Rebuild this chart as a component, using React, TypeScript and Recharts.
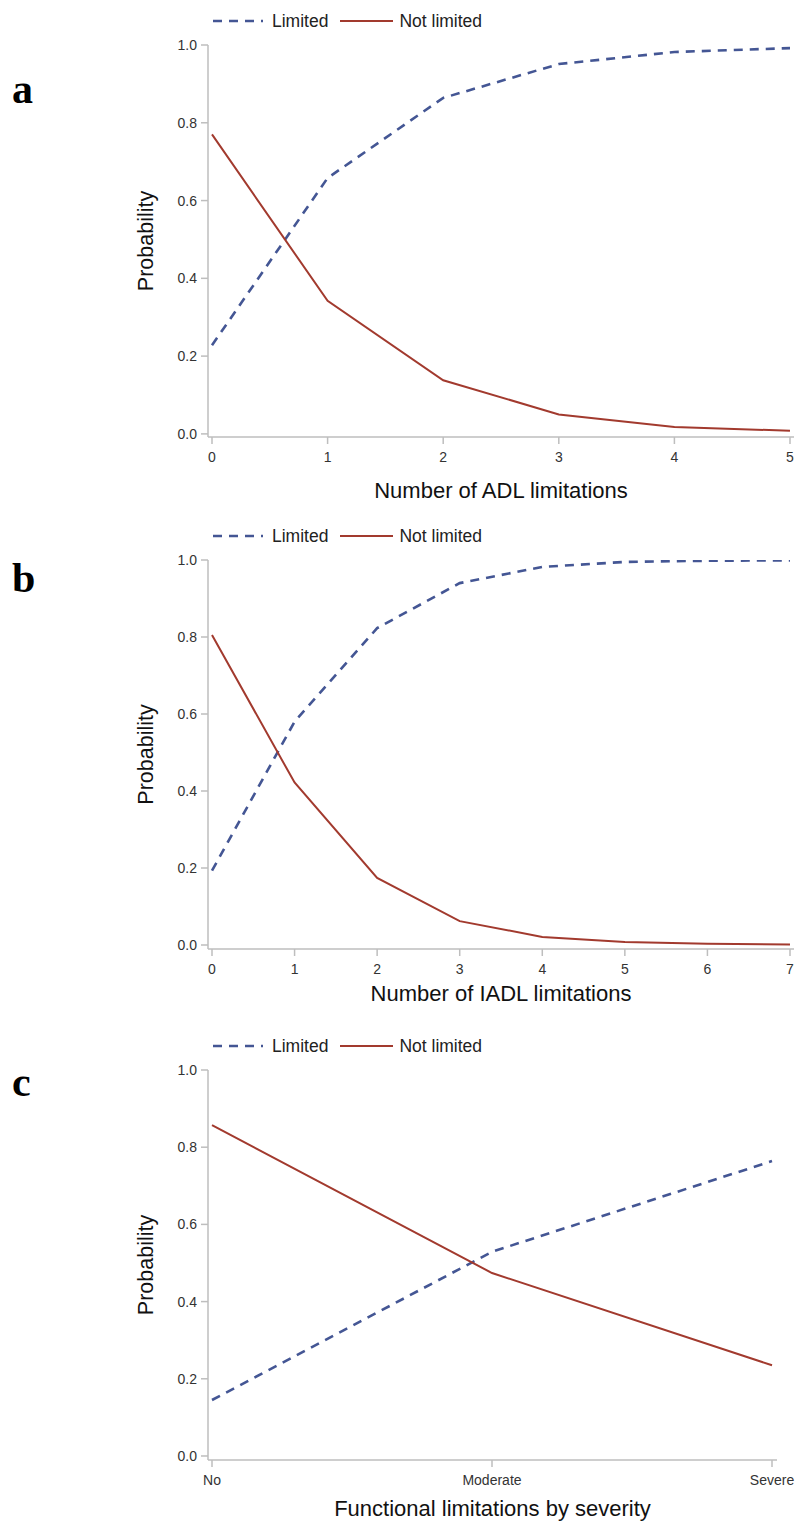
import React from 'react';
import { LineChart, Line, XAxis, YAxis, Legend } from 'recharts';

// ---- data ----
const adlCounts = ['0', '1', '2', '3', '4', '5'];
const adlLimited = [0.228, 0.658, 0.864, 0.951, 0.982, 0.992];
const adlNotLimited = [0.77, 0.342, 0.138, 0.05, 0.018, 0.008];

const iadlCounts = ['0', '1', '2', '3', '4', '5', '6', '7'];
const iadlLimited = [0.193, 0.58, 0.823, 0.94, 0.982, 0.995, 0.998, 0.999];
const iadlNotLimited = [0.805, 0.422, 0.174, 0.062, 0.021, 0.008, 0.003, 0.001];

const severityLevels = ['No', 'Moderate', 'Severe'];
const severityLimited = [0.145, 0.529, 0.764];
const severityNotLimited = [0.857, 0.474, 0.235];

const yTicks = [0, 0.2, 0.4, 0.6, 0.8, 1.0];
const seriesNames = { limited: 'Limited', notLimited: 'Not limited' };

// ---- style ----
const FONT = "'Liberation Sans', Arial, Helvetica, sans-serif";
const BLUE = '#445694';
const RED = '#A23A2E';
const AXIS = '#BEBEBE';
const TICK_TXT = '#333333';

const build = (cats: string[], lim: number[], notLim: number[]) =>
  cats.map((c, i) => ({ cat: c, limited: lim[i], notLimited: notLim[i] }));

const LegendContent = (props: any) => {
  const payload = props.payload || [];
  return (
    <div
      style={{
        display: 'flex',
        alignItems: 'center',
        fontFamily: FONT,
        fontSize: 17.5,
        color: '#222',
        whiteSpace: 'nowrap',
        lineHeight: '22px',
      }}
    >
      {payload.map((e: any, i: number) => {
        const dashed = e.payload && e.payload.strokeDasharray;
        return (
          <React.Fragment key={i}>
            <svg
              width={i === 0 ? 50 : 53}
              height={8}
              style={{ marginLeft: i === 0 ? 0 : 12, display: 'block' }}
            >
              <line
                x1={0}
                y1={4}
                x2={i === 0 ? 50 : 53}
                y2={4}
                stroke={e.color}
                strokeWidth={dashed ? 2.5 : 2}
                strokeDasharray={dashed || undefined}
              />
            </svg>
            <span style={{ marginLeft: i === 0 ? 9 : 6 }}>{e.value}</span>
          </React.Fragment>
        );
      })}
    </div>
  );
};

const xTitle = (text: string, off: number) => (p: any) => {
  const vb = p.viewBox || {};
  return (
    <text
      x={vb.x + vb.width / 2}
      y={vb.y + off}
      textAnchor="middle"
      dominantBaseline="central"
      fontFamily={FONT}
      fontSize={22}
      fill="#111"
    >
      {text}
    </text>
  );
};

const yTitle = (p: any) => {
  const vb = p.viewBox || {};
  const cx = 146;
  const cy = vb.y + vb.height / 2;
  return (
    <text
      x={cx}
      y={cy}
      transform={`rotate(-90 ${cx} ${cy})`}
      textAnchor="middle"
      dominantBaseline="central"
      fontFamily={FONT}
      fontSize={21.5}
      fill="#111"
    >
      Probability
    </text>
  );
};

type PanelProps = {
  data: any[];
  height: number;
  rightMargin: number;
  yMin: number;
  xAxisHeight: number;
  title: string;
  titleOff: number;
  padRight: number;
};

const Panel = ({ data, height, rightMargin, yMin, xAxisHeight, title, titleOff, padRight }: PanelProps) => (
  <LineChart
    width={796}
    height={height}
    data={data}
    margin={{ top: 45, right: rightMargin, bottom: 0, left: 0 }}
  >
    <XAxis
      dataKey="cat"
      height={xAxisHeight}
      interval={0}
      padding={{ left: 4, right: padRight }}
      tickSize={7}
      tickMargin={8.5}
      axisLine={{ stroke: AXIS, strokeWidth: 1.5 }}
      tickLine={{ stroke: AXIS, strokeWidth: 1.5 }}
      tick={{ fontSize: 14, fill: TICK_TXT, fontFamily: FONT }}
      label={{ content: xTitle(title, titleOff) } as any}
    />
    <YAxis
      type="number"
      domain={[yMin, 1]}
      ticks={yTicks}
      allowDataOverflow
      width={208}
      tickSize={7}
      tickMargin={4}
      tickFormatter={(v: number) => v.toFixed(1)}
      axisLine={{ stroke: AXIS, strokeWidth: 1.5 }}
      tickLine={{ stroke: AXIS, strokeWidth: 1.5 }}
      tick={{ fontSize: 14, fill: TICK_TXT, fontFamily: FONT }}
      label={{ content: yTitle } as any}
    />
    <Legend
      layout="horizontal"
      verticalAlign="middle"
      align="center"
      content={<LegendContent />}
      wrapperStyle={{ top: 10, left: 213, width: 400, bottom: 'auto', right: 'auto' }}
    />
    <Line
      type="linear"
      dataKey="limited"
      name={seriesNames.limited}
      stroke={BLUE}
      strokeWidth={2.6}
      strokeDasharray="9 7"
      dot={false}
      activeDot={false}
      isAnimationActive={false}
    />
    <Line
      type="linear"
      dataKey="notLimited"
      name={seriesNames.notLimited}
      stroke={RED}
      strokeWidth={2}
      dot={false}
      activeDot={false}
      isAnimationActive={false}
    />
  </LineChart>
);

const letterStyle = (top: number): React.CSSProperties => ({
  position: 'absolute',
  left: 12,
  top,
  fontFamily: "'Liberation Serif', 'Times New Roman', serif",
  fontWeight: 'bold',
  fontSize: 42,
  lineHeight: '42px',
  color: '#000',
});

export default function App() {
  return (
    <div style={{ position: 'absolute', left: 0, top: 0, width: 796, height: 1521, background: '#fff', overflow: 'hidden' }}>
      <div style={{ position: 'absolute', left: 0, top: 0 }}>
        <Panel
          data={build(adlCounts, adlLimited, adlNotLimited)}
          height={507}
          rightMargin={2}
          yMin={-0.008}
          xAxisHeight={70}
          title="Number of ADL limitations"
          titleOff={53}
          padRight={4}
        />
      </div>
      <div style={{ position: 'absolute', left: 0, top: 515 }}>
        <Panel
          data={build(iadlCounts, iadlLimited, iadlNotLimited)}
          height={494}
          rightMargin={2}
          yMin={-0.0104}
          xAxisHeight={60}
          title="Number of IADL limitations"
          titleOff={44}
          padRight={4}
        />
      </div>
      <div style={{ position: 'absolute', left: 0, top: 1025 }}>
        <Panel
          data={build(severityLevels, severityLimited, severityNotLimited)}
          height={496}
          rightMargin={19}
          yMin={-0.0104}
          xAxisHeight={61}
          title="Functional limitations by severity"
          titleOff={48}
          padRight={5}
        />
      </div>
      <div style={letterStyle(68)}>a</div>
      <div style={letterStyle(557)}>b</div>
      <div style={letterStyle(1061)}>c</div>
    </div>
  );
}
